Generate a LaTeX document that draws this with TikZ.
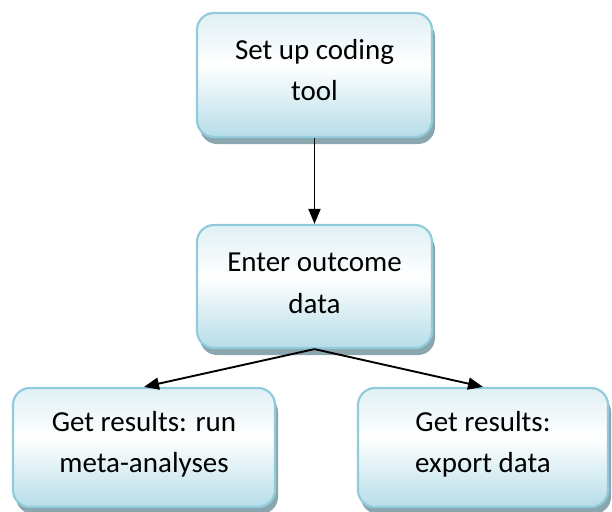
\documentclass[tikz,border=0pt]{standalone}
\usepackage{fontspec}
\setmainfont{Carlito}
\usetikzlibrary{arrows.meta,shadows}
\definecolor{boxborder}{RGB}{146,204,220}
\definecolor{boxbot}{RGB}{182,221,232}
\definecolor{boxtop}{RGB}{224,240,245}
\definecolor{boxshadow}{RGB}{138,166,174}
\pgfdeclareverticalshading{boxshade}{100bp}{color(0bp)=(boxbot); color(25bp)=(boxbot); color(54bp)=(white); color(75bp)=(boxtop); color(100bp)=(boxtop)}
\tikzset{
  box/.style={draw=boxborder, line width=2.2pt, rounded corners=17pt, shading=boxshade,
    inner sep=0pt, drop shadow={shadow xshift=3pt, shadow yshift=-7pt, fill=boxshadow, opacity=1}},
  txt/.style={font=\fontsize{29}{41.5}\selectfont, align=center, inner sep=0pt},
  conn/.style={line width=1.9pt, -{Triangle[length=15pt,width=12pt]}}
}
\begin{document}
\begin{tikzpicture}[x=1pt,y=-1pt]
\useasboundingbox (0,0) rectangle (612,511);
\clip (0,0) rectangle (612,511);
\node[box, minimum width=235pt, minimum height=124pt] (top) at (314.5,75) {};
\node[box, minimum width=235pt, minimum height=123pt] (mid) at (314.5,286.5) {};
\node[box, minimum width=262pt, minimum height=119pt] (bl) at (144,447.5) {};
\node[box, minimum width=250pt, minimum height=119pt] (br) at (483,447.5) {};
\node[txt] (ttop) at ([yshift=5pt]top.center) {Set up coding\\tool};
\node[txt] (tmid) at ([yshift=3pt]mid.center) {Enter outcome\\data};
\node[txt] (tbl) at ([yshift=3pt]bl.center) {Get results: run\\meta-analyses};
\node[txt] (tbr) at ([yshift=3pt]br.center) {Get results:\\export data};
\draw[conn] (top.south) -- (mid.north);
\draw[conn] (mid.south) -- (bl.north);
\draw[conn] (mid.south) -- (br.north);
\end{tikzpicture}
\end{document}
